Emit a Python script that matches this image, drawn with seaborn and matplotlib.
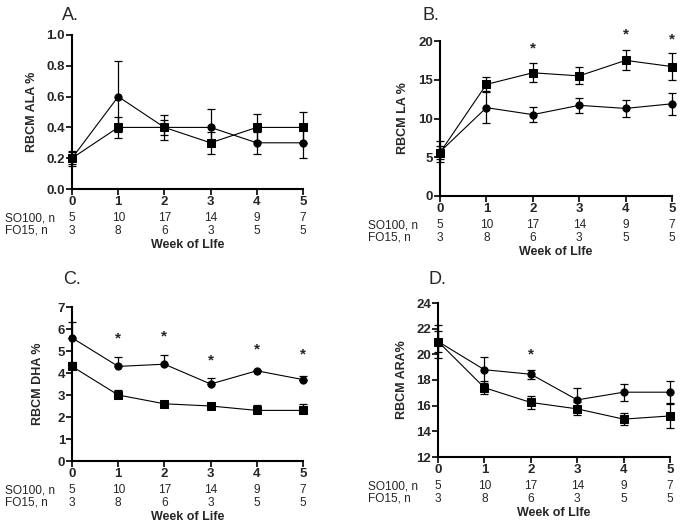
import numpy as np
import pandas as pd
import matplotlib
matplotlib.use("Agg")
import matplotlib.pyplot as plt
import seaborn as sns

weeks = [0, 1, 2, 3, 4, 5]
so100_n = [5, 10, 17, 14, 9, 7]
fo15_n = [3, 8, 6, 3, 5, 5]

# squares = SO100, circles = FO15
ala_so = [0.2, 0.4, 0.4, 0.3, 0.4, 0.4]
ala_so_err = [0.04, 0.07, 0.05, 0.07, 0.09, 0.1]
ala_fo = [0.2, 0.6, 0.4, 0.4, 0.3, 0.3]
ala_fo_err = [0.05, 0.23, 0.08, 0.12, 0.07, 0.1]

la_so = [5.6, 14.4, 15.9, 15.5, 17.5, 16.7]
la_so_err = [0.8, 0.9, 1.2, 1.1, 1.3, 1.7]
la_fo = [5.7, 11.4, 10.5, 11.7, 11.3, 11.9]
la_fo_err = [1.35, 2.0, 1.0, 1.0, 1.1, 1.4]
la_star_weeks = [2, 4, 5]
la_star_y = [19.65, 21.4, 20.8]

dha_so = [4.3, 3.0, 2.6, 2.5, 2.3, 2.3]
dha_so_err = [0.2, 0.23, 0.05, 0.05, 0.23, 0.29]
dha_fo = [5.6, 4.3, 4.4, 3.5, 4.1, 3.7]
dha_fo_err = [0.72, 0.45, 0.4, 0.26, 0.05, 0.17]
dha_star_weeks = [1, 2, 3, 4, 5]
dha_star_y = [5.76, 5.85, 4.75, 5.26, 5.04]

ara_so = [21.0, 17.4, 16.25, 15.75, 14.95, 15.2]
ara_so_err = [0.85, 0.5, 0.52, 0.5, 0.47, 0.95]
ara_fo = [21.0, 18.8, 18.45, 16.45, 17.05, 17.05]
ara_fo_err = [1.3, 1.0, 0.35, 0.95, 0.65, 0.85]
ara_star_weeks = [2]
ara_star_y = [20.3]

sns.set_style("ticks")
plt.rcParams['font.family'] = ['Liberation Sans', 'DejaVu Sans']

fig = plt.figure(figsize=(6.83, 5.28), dpi=100)

panels = [
    dict(title="A.", title_xy=(62, 15), rect=(72, 35, 303, 189), ylabel="RBCM ALA %", ylab_x=-0.147,
         so=ala_so, so_err=ala_so_err, fo=ala_fo, fo_err=ala_fo_err, upper=False,
         ylim=(0, 1.0), yticks=[0.0, 0.2, 0.4, 0.6, 0.8, 1.0], fmt="{:.1f}", row_x=-67,
         stars_x=[], stars_y=[], xlabel="Week of LIfe"),
    dict(title="B.", title_xy=(422, 15), rect=(440, 41, 672, 196), ylabel="RBCM LA %", ylab_x=-0.134,
         so=la_so, so_err=la_so_err, fo=la_fo, fo_err=la_fo_err, upper=False,
         ylim=(0, 20), yticks=[0, 5, 10, 15, 20], fmt="{:d}", row_x=-72,
         stars_x=la_star_weeks, stars_y=la_star_y, xlabel="Week of LIfe"),
    dict(title="C.", title_xy=(63, 279), rect=(72, 307, 303, 461), ylabel="RBCM DHA %", ylab_x=-0.121,
         so=dha_so, so_err=dha_so_err, fo=dha_fo, fo_err=dha_fo_err, upper=True,
         ylim=(0, 7), yticks=[0, 1, 2, 3, 4, 5, 6, 7], fmt="{:d}", row_x=-67,
         stars_x=dha_star_weeks, stars_y=dha_star_y, xlabel="Week of Life"),
    dict(title="D.", title_xy=(428, 279), rect=(438, 303, 670, 457), ylabel="RBCM ARA%", ylab_x=-0.13,
         so=ara_so, so_err=ara_so_err, fo=ara_fo, fo_err=ara_fo_err, upper=False,
         ylim=(12, 24), yticks=[12, 14, 16, 18, 20, 22, 24], fmt="{:d}", row_x=-70,
         stars_x=ara_star_weeks, stars_y=ara_star_y, xlabel="Week of LIfe"),
]

W, H = 683.0, 528.0

for p in panels:
    x0, y0, x1, y1 = p["rect"]
    ax = fig.add_axes([x0 / W, 1 - y1 / H, (x1 - x0) / W, (y1 - y0) / H])

    df = pd.DataFrame({
        "week": weeks + weeks,
        "value": p["so"] + p["fo"],
        "diet": ["SO100"] * len(weeks) + ["FO15"] * len(weeks),
    })
    sns.lineplot(data=df, x="week", y="value", style="diet",
                 markers={"SO100": "s", "FO15": "o"}, dashes=False,
                 color="black", linewidth=0.8, markersize=6,
                 markeredgecolor="black", legend=False, errorbar=None, ax=ax)
    for ln in ax.lines:
        ln.set_clip_on(False)
        if ln.get_marker() == "o":
            ln.set_markersize(5.2)

    for vals, errs in [(p["so"], p["so_err"]), (p["fo"], p["fo_err"])]:
        if p["upper"]:
            yerr = [np.zeros(len(errs)), errs]
        else:
            yerr = errs
        eb = ax.errorbar(weeks, vals, yerr=yerr, fmt="none", ecolor="black",
                         elinewidth=0.9, capsize=3.2, capthick=0.9)
        for art in eb.lines[1] + eb.lines[2]:
            art.set_clip_on(False)

    for sx, sy in zip(p["stars_x"], p["stars_y"]):
        ax.annotate("*", xy=(sx, sy), xytext=(0, -6), textcoords="offset points",
                    ha="center", va="baseline", fontsize=11, fontweight="bold",
                    annotation_clip=False)

    ax.set_xlim(0, 5)
    ax.set_ylim(*p["ylim"])
    ax.set_xticks(weeks)
    ax.set_xticklabels([str(w) for w in weeks], fontweight="bold", fontsize=9.5)
    ax.set_yticks(p["yticks"])
    ax.set_yticklabels([p["fmt"].format(t) for t in p["yticks"]], fontweight="bold", fontsize=9.5)
    ax.tick_params(axis="both", length=4, width=1.2, pad=1, color="black")
    sns.despine(ax=ax)
    for s in ["left", "bottom"]:
        ax.spines[s].set_linewidth(1.5)
        ax.spines[s].set_color("black")

    ax.set_xlabel("")
    ax.set_ylabel(p["ylabel"], fontweight="bold", fontsize=9)
    ax.yaxis.set_label_coords(p["ylab_x"], 0.5)

    # n rows under the axis
    row_off = p["row_x"] * 0.72
    for label, ns, off in [("SO100, n", so100_n, -20.9), ("FO15, n", fo15_n, -30.2)]:
        ax.annotate(label, xy=(0, 0), xycoords="axes fraction", xytext=(row_off, off),
                    textcoords="offset points", ha="left", va="center", fontsize=8.6)
        for w, n in zip(weeks, ns):
            ax.annotate(str(n), xy=(w, 0), xycoords=("data", "axes fraction"),
                        xytext=(0, off), textcoords="offset points",
                        ha="center", va="center", fontsize=8.6)
    ax.annotate(p["xlabel"], xy=(0.5, 0), xycoords="axes fraction", xytext=(0, -40.3),
                textcoords="offset points", ha="center", va="center",
                fontsize=9, fontweight="bold")

    tx, ty = p["title_xy"]
    fig.text(tx / W, 1 - ty / H, p["title"], ha="left", va="center", fontsize=13)

fig.savefig("out.png", dpi=100)
